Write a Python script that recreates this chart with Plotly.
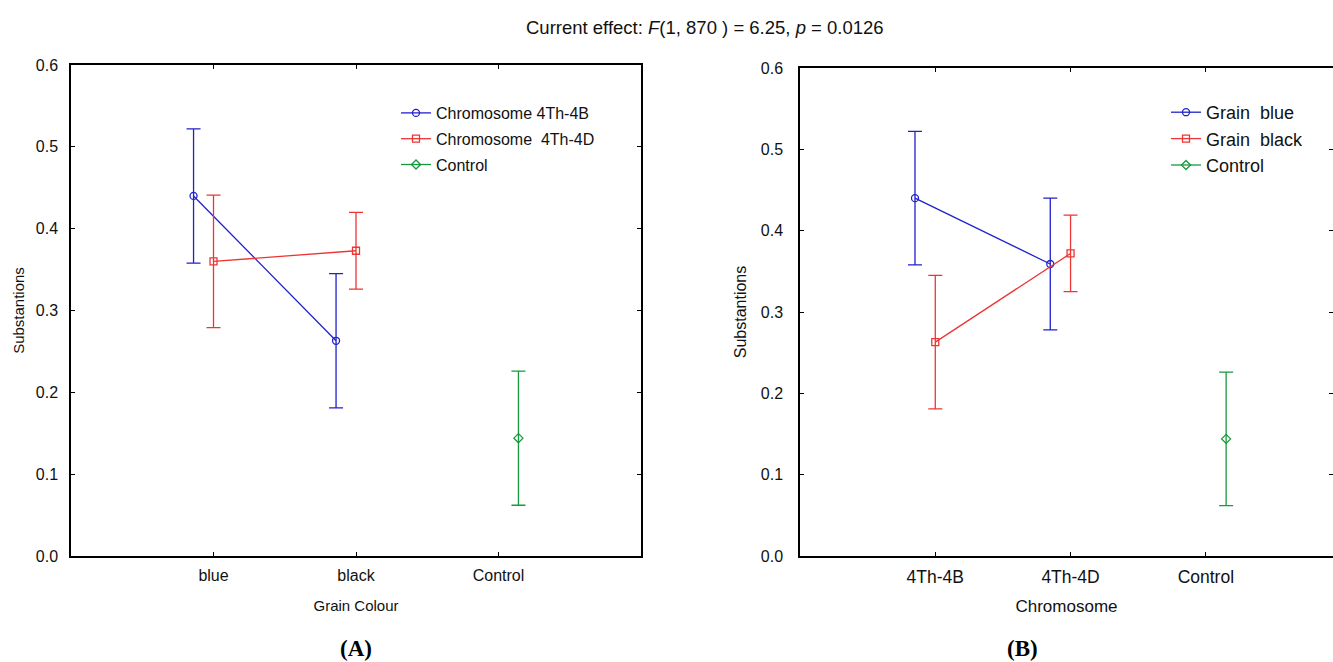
import plotly.graph_objects as go

# ---- data ----
grain_cats = ["blue", "black", "Control"]
chrom_cats = ["4Th-4B", "4Th-4D", "Control"]

# Panel A: by grain colour (blue, black)
chr4B_mean = [0.440, 0.263]
chr4B_err = [0.082, 0.082]
chr4D_mean = [0.360, 0.373]
chr4D_err = [0.081, 0.047]

# Panel B: by chromosome (4Th-4B, 4Th-4D)
grain_blue_mean = [0.440, 0.359]
grain_blue_err = [0.082, 0.081]
grain_black_mean = [0.263, 0.372]
grain_black_err = [0.082, 0.047]

control_mean = [0.144]
control_err = [0.082]

y_ticks = [0.0, 0.1, 0.2, 0.3, 0.4, 0.5, 0.6]

# ---- style ----
W, H = 1333, 662
BLUE = "#2020cc"
RED = "#ee3535"
GREEN = "#179a3c"
FONT = "Liberation Sans, Arial, sans-serif"
SERIF = "Liberation Serif, Times New Roman, serif"
OFF_A = 0.14
OFF_B = 0.15


def px_x(p):
    return p / W


def px_y(p):
    return 1 - p / H


fig = go.Figure()


def add_series(x_idx, offset, y, err, name, color, symbol, msize, xaxis, yaxis, legend, group):
    fig.add_trace(go.Scatter(
        x=[i + offset for i in x_idx], y=y,
        mode="lines+markers",
        name=name,
        line=dict(color=color, width=1.3),
        marker=dict(symbol=symbol, size=msize, color=color, line=dict(color=color, width=1.3)),
        error_y=dict(type="data", array=err, visible=True, color=color, thickness=1.3, width=7),
        xaxis=xaxis, yaxis=yaxis, legend=legend, legendgroup=group,
    ))


# Panel A
add_series([0, 1], -OFF_A, chr4B_mean, chr4B_err, "Chromosome 4Th-4B", BLUE, "circle-open", 7, "x", "y", "legend", "a1")
add_series([0, 1], 0.0, chr4D_mean, chr4D_err, "Chromosome  4Th-4D", RED, "square-open", 7, "x", "y", "legend", "a2")
add_series([2], OFF_A, control_mean, control_err, "Control", GREEN, "diamond-open", 7, "x", "y", "legend", "a3")

# Panel B
add_series([0, 1], -OFF_B, grain_blue_mean, grain_blue_err, "Grain  blue", BLUE, "circle-open", 7, "x2", "y2", "legend2", "b1")
add_series([0, 1], 0.0, grain_black_mean, grain_black_err, "Grain  black", RED, "square-open", 7, "x2", "y2", "legend2", "b2")
add_series([2], OFF_B, control_mean, control_err, "Control", GREEN, "diamond-open", 7, "x2", "y2", "legend2", "b3")

axis_common = dict(
    showline=True, linecolor="black", linewidth=1.5, mirror="allticks",
    ticks="inside", ticklen=4, tickcolor="black", tickwidth=1,
    showgrid=False, zeroline=False, automargin=False,
)

fig.update_layout(
    template="none",
    width=W, height=H,
    margin=dict(l=0, r=0, t=0, b=0, pad=0, autoexpand=False),
    paper_bgcolor="white", plot_bgcolor="white",
    font=dict(family=FONT, color="#111"),
    showlegend=True,
    xaxis=dict(
        domain=[px_x(71), px_x(641)], range=[-1, 3],
        tickvals=[0, 1, 2], ticktext=grain_cats, anchor="y", ticklabelstandoff=4,
        tickfont=dict(family=FONT, size=16, color="#111"),
        title=dict(text="Grain Colour", font=dict(family=FONT, size=15, color="#111"), standoff=18),
        **axis_common,
    ),
    yaxis=dict(
        domain=[px_y(556), px_y(65)], range=[0, 0.6],
        tickvals=y_ticks, tickformat=".1f", anchor="x", ticklabelstandoff=8,
        tickfont=dict(family=FONT, size=16, color="#111"),
        title=dict(text="Substantions", font=dict(family=FONT, size=15, color="#111"), standoff=8),
        **axis_common,
    ),
    xaxis2=dict(
        domain=[px_x(800), 1.0], range=[-1, 2.94],
        tickvals=[0, 1, 2], ticktext=chrom_cats, anchor="y2", ticklabelstandoff=4,
        tickfont=dict(family=FONT, size=17.5, color="#111"),
        title=dict(text="Chromosome", font=dict(family=FONT, size=17, color="#111"), standoff=14),
        **axis_common,
    ),
    yaxis2=dict(
        domain=[px_y(556), px_y(68)], range=[0, 0.6],
        tickvals=y_ticks, tickformat=".1f", anchor="x2", ticklabelstandoff=12,
        tickfont=dict(family=FONT, size=16, color="#111"),
        title=dict(text="Substantions", font=dict(family=FONT, size=16, color="#111"), standoff=10),
        **axis_common,
    ),
    legend=dict(
        x=px_x(396), y=px_y(96), xanchor="left", yanchor="top",
        bgcolor="rgba(0,0,0,0)", font=dict(family=FONT, size=16, color="#111"),
        tracegroupgap=2, itemwidth=30,
    ),
    legend2=dict(
        x=px_x(1166), y=px_y(94), xanchor="left", yanchor="top",
        bgcolor="rgba(0,0,0,0)", font=dict(family=FONT, size=18, color="#111"),
        tracegroupgap=0, itemwidth=30,
    ),
    annotations=[
        dict(text="Current effect: <i>F</i>(1, 870 ) = 6.25, <i>p</i> = 0.0126",
             x=px_x(705), y=px_y(28), xref="paper", yref="paper", showarrow=False,
             xanchor="center", yanchor="middle",
             font=dict(family=FONT, size=18.5, color="#111")),
        dict(text="<b>(A)</b>", x=px_x(356), y=px_y(648), xref="paper", yref="paper", showarrow=False,
             xanchor="center", yanchor="middle",
             font=dict(family=SERIF, size=23, color="black")),
        dict(text="<b>(B)</b>", x=px_x(1022), y=px_y(648), xref="paper", yref="paper", showarrow=False,
             xanchor="center", yanchor="middle",
             font=dict(family=SERIF, size=23, color="black")),
    ],
)

fig.write_html("out.html")
